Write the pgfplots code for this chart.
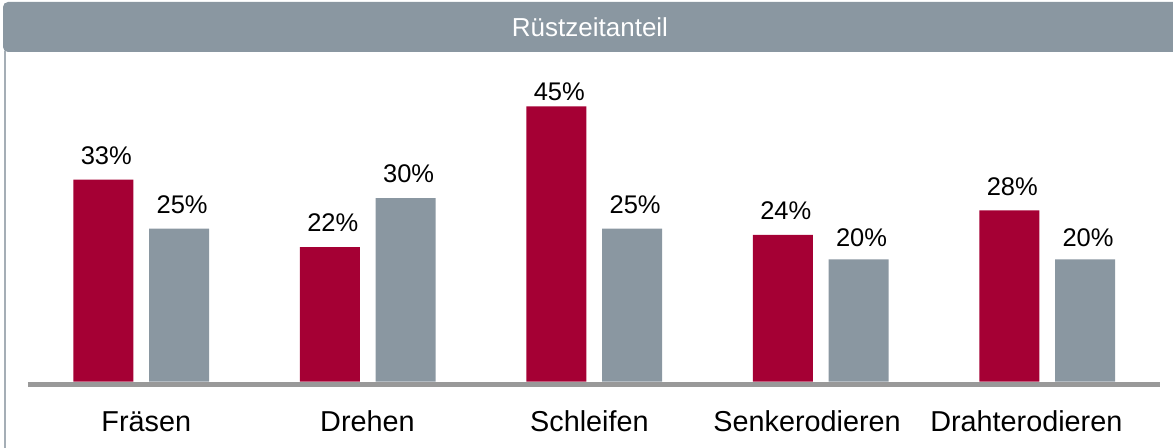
\documentclass[border=0pt]{standalone}
\usepackage{fontspec}
\setmainfont{Liberation Sans}
\usepackage{pgfplots}
\usepackage{pgfplotstable}
\pgfplotsset{compat=1.18}

\definecolor{barred}{RGB}{165,0,52}
\definecolor{bargray}{RGB}{138,151,161}
\definecolor{basegray}{RGB}{153,153,153}
\definecolor{framegray}{RGB}{165,174,182}

% x = category index, y = share in %, dy = label offset above bar top (bp)
\pgfplotstableread{
x y dy
0 33 24
1 22 24
2 45 15
3 24 24
4 28 24
}\redtab
\pgfplotstableread{
x y dy
0 25 24
1 30 24
2 25 24
3 20 22
4 20 22
}\graytab

\begin{document}
\begin{tikzpicture}[x=1bp,y=1bp]

\begin{axis}[
    name=ax,
    at={(0,0)}, anchor=south west,
    scale only axis,
    width=1132.5bp, height=306bp,
    xmin=-0.5, xmax=4.5,
    ymin=0, ymax=50,
    axis x line*=bottom,
    axis y line=none,
    x axis line style={basegray, line width=5bp, yshift=-2.5bp},
    % category names sit slightly off the group centres, as in the original
    xtick={0.0225,0.999,1.979,2.940,3.908},
    xticklabels={Fräsen,Drehen,Schleifen,Senkerodieren,Drahterodieren},
    major tick length=0,
    xticklabel style={anchor=base, yshift=-50bp,
        font=\fontsize{28.8bp}{33bp}\selectfont},
    ytick=\empty,
    ybar,
    bar width=60bp,
    clip=false,
    nodes near coords={\pgfmathprintnumber[assume math mode=true]{\pgfplotspointmeta}\%},
    visualization depends on={\thisrow{dy} \as \labdy},
    every node near coord/.append style={anchor=center,
        yshift=\labdy bp, xshift=3bp, text=black,
        font=\fontsize{25.5bp}{30bp}\selectfont},
]
\addplot[fill=barred, draw=none, bar shift=-37.9bp] table[x=x,y=y] \redtab;
\addplot[fill=bargray, draw=none, bar shift=37.9bp] table[x=x,y=y] \graytab;
\end{axis}

% frame and title bar, placed relative to the axis corner
\begin{scope}[shift={(ax.south west)}]
  \begin{scope}
    \clip (-27.95,-66.3) rectangle (1145.05,381.7);
    \fill[bargray, rounded corners=5bp] (-24.95,329.7) rectangle (1162.05,379.7);
  \end{scope}
  \draw[framegray, line width=2bp] (-22.95,-66.3) -- (-22.95,330.7);
  \node[white, font=\fontsize{26bp}{30bp}\selectfont] at (562.05,354.7) {Rüstzeitanteil};
  \pgfresetboundingbox
  \path[use as bounding box] (-27.95,-66.3) rectangle (1145.05,381.7);
\end{scope}
\end{tikzpicture}
\end{document}
